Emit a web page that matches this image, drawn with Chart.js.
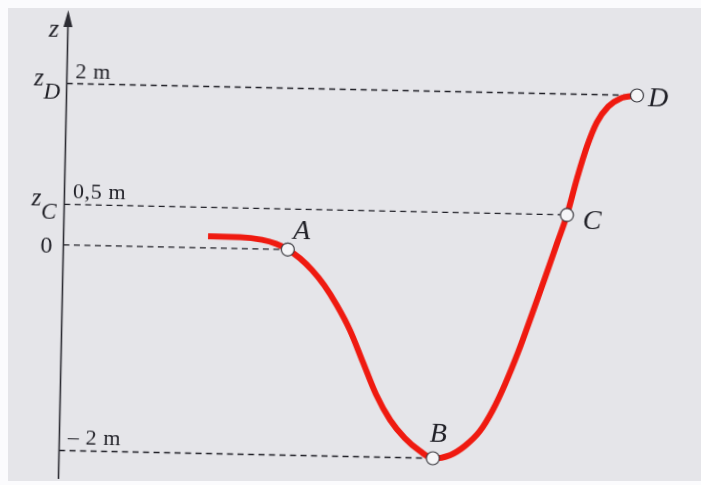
<!DOCTYPE html>
<html>
<head>
<meta charset="utf-8">
<script src="https://cdn.jsdelivr.net/npm/chart.js@4/dist/chart.umd.min.js"></script>
<style>
  html, body { margin: 0; padding: 0; width: 701px; height: 485px; overflow: hidden; background: #e5e5e9; }
  #chart { position: absolute; left: 0; top: 0; transform: rotate(1.2deg); transform-origin: 350px 242px; }
  .edge { position: absolute; background: #fbfbfd; }
</style>
</head>
<body>
<canvas id="chart" width="701" height="485"></canvas>
<div class="edge" style="left:0;top:0;width:701px;height:8px"></div>
<div class="edge" style="left:0;top:0;width:8px;height:485px"></div>
<div class="edge" style="left:0;top:481px;width:701px;height:4px"></div>
<script>
/*
    Profil d'une piste : altitude z le long du trajet, points A, B, C, D.
*/

// Track profile (x: position along the drawing, z: altitude in m)
const trackX = [23.3, 28.5, 32.0, 34.3, 36.2, 38.2, 40.2, 42.2, 44.3, 46.5, 48.7, 50.9, 53.3, 55.7, 58.2, 60.3,
                63.1, 65.4, 67.8, 69.8, 71.7, 73.7, 75.8, 77.8, 79.6, 81.1, 82.6, 84.1, 85.6, 87.4, 89.3, 92.0];
const trackZ = [0.142, 0.14, 0.113, 0.067, 0, -0.083, -0.197, -0.34, -0.532, -0.772, -1.08, -1.388, -1.638, -1.809, -1.933, -2,
                -1.965, -1.875, -1.726, -1.52, -1.265, -0.951, -0.58, -0.218, 0.146, 0.5, 0.956, 1.355, 1.655, 1.856, 1.958, 2];

// Marked points
const pointNames = ['A', 'B', 'C', 'D'];
const pointX = [36.2, 60.3, 81.1, 92.0];
const pointZ = [0, -2, 0.5, 2];

// Levels on the z axis
const levelZ = [2, 0.5, 0, -2];
const levelSymbol = ['z_D', 'z_C', '0', ''];
const levelValue = ['2 m', '0,5 m', '', '\u2013 2 m'];
const levelPoint = ['D', 'C', 'A', 'B'];


// The figure is not to scale: below zero the drawing is stretched
class ZScale extends Chart.LinearScale {
  _s(v) { return v < 0 ? v * this.options.stretchBelow : v; }
  getPixelForValue(value) {
    if (value === null || value === undefined || isNaN(value)) return NaN;
    const a = this._s(this.min), b = this._s(this.max);
    return this.getPixelForDecimal((this._s(value) - a) / (b - a));
  }
  getValueForPixel(pixel) {
    const a = this._s(this.min), b = this._s(this.max);
    const s = a + this.getDecimalForPixel(pixel) * (b - a);
    return s < 0 ? s / this.options.stretchBelow : s;
  }
}
ZScale.id = 'zscale';
ZScale.defaults = Object.assign({}, Chart.LinearScale.defaults, { stretchBelow: 1 });
Chart.register(ZScale);

const ink = '#1f1f26';
const serif = '"Liberation Serif", "DejaVu Serif", serif';

const labelNudge = { A: [5, -11], B: [-3.5, -16], C: [16, 13.5], D: [11, 10.5] };

const profilePlugin = {
  id: 'profile',
  beforeDatasetsDraw(chart) {
    const ctx = chart.ctx;
    const xs = chart.scales.x, zs = chart.scales.y;
    const ax = chart.chartArea.left;
    ctx.save();
    // dashed level lines
    ctx.strokeStyle = ink;
    ctx.lineWidth = 1.3;
    ctx.setLineDash([6, 4.5]);
    levelZ.forEach((z, i) => {
      const k = pointNames.indexOf(levelPoint[i]);
      const y = zs.getPixelForValue(z);
      ctx.beginPath();
      ctx.moveTo(ax, y);
      ctx.lineTo(xs.getPixelForValue(pointX[k]), y);
      ctx.stroke();
    });
    ctx.setLineDash([]);
    // z axis with arrow
    ctx.strokeStyle = '#2c2c33';
    ctx.lineWidth = 1.6;
    ctx.beginPath();
    ctx.moveTo(ax, chart.height + 10);
    ctx.lineTo(ax, 28);
    ctx.stroke();
    ctx.fillStyle = '#2c2c33';
    ctx.beginPath();
    ctx.moveTo(ax, 16);
    ctx.lineTo(ax - 4.5, 33);
    ctx.lineTo(ax + 4.5, 33);
    ctx.closePath();
    ctx.fill();
    ctx.restore();
  },
  afterDatasetsDraw(chart) {
    const ctx = chart.ctx;
    const xs = chart.scales.x, zs = chart.scales.y;
    const ax = chart.chartArea.left;
    ctx.save();
    ctx.fillStyle = ink;
    ctx.textBaseline = 'alphabetic';

    // axis name
    ctx.font = 'italic 26px ' + serif;
    ctx.textAlign = 'right';
    ctx.fillText('z', ax - 9, 43);

    levelZ.forEach((z, i) => {
      const y = zs.getPixelForValue(z);
      const sym = levelSymbol[i];
      if (sym.indexOf('_') > 0) {
        const [main, sub] = sym.split('_');
        ctx.font = 'italic 25px ' + serif;
        ctx.textAlign = 'right';
        ctx.fillText(main, ax - 23, y + 2);
        ctx.font = 'italic 23px ' + serif;
        ctx.textAlign = 'left';
        ctx.fillText(sub, ax - 23, y + 15);
      } else if (sym) {
        ctx.font = '24px ' + serif;
        ctx.textAlign = 'right';
        ctx.fillText(sym, ax - 11, y + 8);
      }
      if (levelValue[i]) {
        ctx.font = '22px ' + serif;
        ctx.letterSpacing = '0.6px';
        ctx.textAlign = 'left';
        ctx.fillText(levelValue[i], ax + 8.5, y - 6);
        ctx.letterSpacing = '0px';
      }
    });

    // point names
    ctx.font = 'italic 28px ' + serif;
    ctx.textAlign = 'left';
    pointNames.forEach((name, i) => {
      const n = labelNudge[name];
      ctx.fillText(name, xs.getPixelForValue(pointX[i]) + n[0], zs.getPixelForValue(pointZ[i]) + n[1]);
    });
    ctx.restore();
  }
};

const track = trackX.map((x, i) => ({ x: x, y: trackZ[i] }));
const marks = pointX.map((x, i) => ({ x: x, y: pointZ[i] }));

new Chart(document.getElementById('chart').getContext('2d'), {
  type: 'line',
  data: {
    datasets: [{
      label: 'points',
      data: marks,
      order: 0,
      showLine: false,
      pointRadius: 6.5,
      pointBackgroundColor: '#f5f5f7',
      pointBorderColor: '#3a3a40',
      pointBorderWidth: 1.2,
      clip: false
    }, {
      label: 'profil',
      data: track,
      order: 1,
      borderColor: '#ef1a10',
      borderWidth: 6,
      borderCapStyle: 'butt',
      cubicInterpolationMode: 'monotone',
      pointRadius: 0,
      fill: false,
      clip: false
    }]
  },
  options: {
    responsive: false,
    animation: false,
    events: [],
    devicePixelRatio: 1,
    layout: { padding: { left: 63.5, right: 17.5, top: 25, bottom: 10 } },
    scales: {
      x: { type: 'linear', min: 0, max: 100, display: false },
      y: { type: 'zscale', min: -2.18, max: 2.8, stretchBelow: 1.2755, display: false }
    },
    plugins: { legend: { display: false }, tooltip: { enabled: false } }
  },
  plugins: [profilePlugin]
});
</script>
</body>
</html>
